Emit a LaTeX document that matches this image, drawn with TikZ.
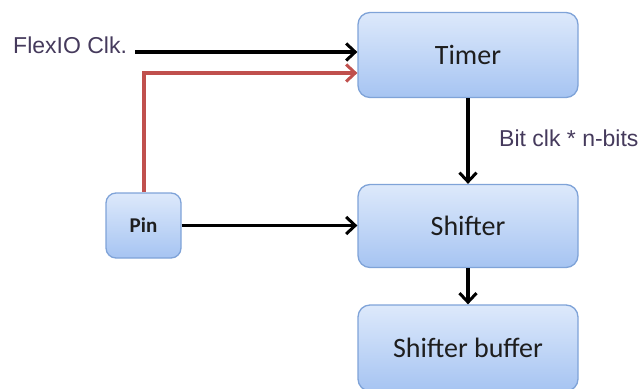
\documentclass[tikz,border=0pt]{standalone}
\usepackage{fontspec}
\setmainfont{Carlito}
\newfontfamily\arialf{Liberation Sans}
\usetikzlibrary{arrows.meta}
\definecolor{boxtop}{HTML}{DDE9FB}
\definecolor{boxbot}{HTML}{A6C4F2}
\definecolor{boxline}{HTML}{7FA3D8}
\definecolor{txtgray}{HTML}{1E1E1E}
\definecolor{lbl}{HTML}{453A5C}
\definecolor{redline}{HTML}{C0504D}
\begin{document}
\begin{tikzpicture}[x=1pt,y=-1pt,
  blockbox/.style={draw=boxline, line width=1.3pt, rounded corners=12pt,
    top color=boxtop, bottom color=boxbot, minimum width=220pt,
    minimum height=85pt, inner sep=0pt, text=txtgray,
    font=\fontsize{28}{30}\selectfont},
  pinbox/.style={draw=boxline, line width=1.3pt, rounded corners=10pt,
    top color=boxtop, bottom color=boxbot, minimum width=75pt,
    minimum height=65pt, inner sep=0pt, text=txtgray,
    font=\fontsize{21}{24}\selectfont\bfseries},
  lab/.style={inner sep=0pt, text=lbl, font=\arialf\fontsize{23}{26}\selectfont},
  arr/.style={line width=3.2pt, -{Straight Barb[length=9pt,width=17pt,line width=3pt]}},
  redarr/.style={arr, draw=redline}]
\useasboundingbox (0,0) rectangle (642,388);
\node[blockbox] (timer) at (468,55) {Timer};
\node[blockbox, minimum height=83pt] (shifter) at (468,226) {Shifter};
\node[blockbox, minimum height=86pt] (buffer) at (468,348) {Shifter buffer};
\node[pinbox] (pin) at (143.5,225.5) {Pin};
\node[lab, anchor=west] (flex) at (13,45) {FlexIO Clk.};
\node[lab, anchor=west] (bit) at (499,138) {Bit clk * n-bits};
\coordinate (fa) at (135,52);
\coordinate (ra) at (144,73);
\draw[arr] (fa) -- (fa -| timer.west);
\draw[redarr] (pin.north -| ra) -- (ra) -- (ra -| timer.west);
\draw[arr] (timer.south) -- (shifter.north);
\draw[arr] (pin.east) -- (pin.east -| shifter.west);
\draw[arr] (shifter.south) -- (buffer.north);
\end{tikzpicture}
\end{document}
